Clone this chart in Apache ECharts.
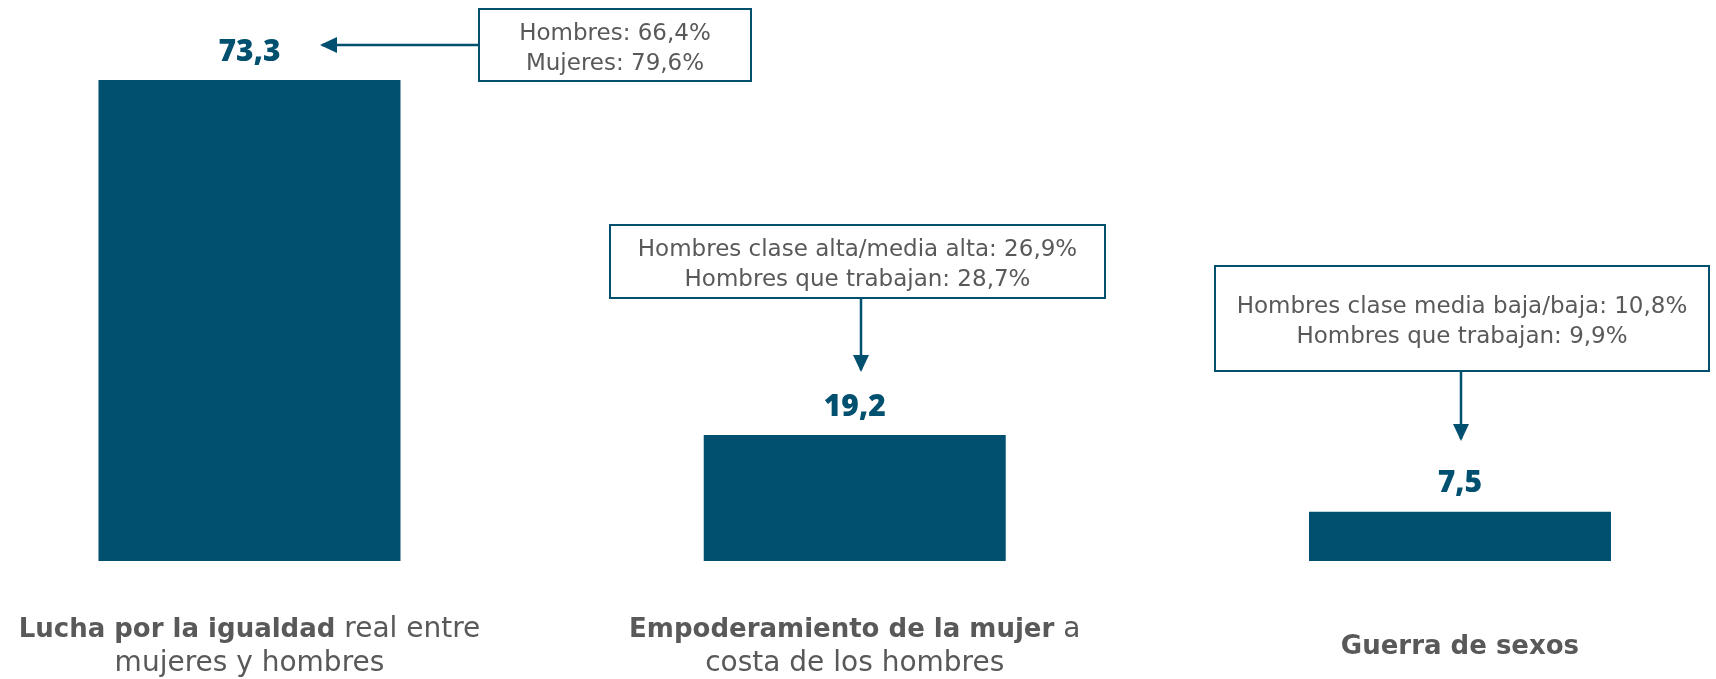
<!DOCTYPE html>
<html>
<head>
<meta charset="utf-8">
<script src="https://cdn.jsdelivr.net/npm/echarts@6/dist/echarts.min.js"></script>
<style>
  html, body { margin: 0; padding: 0; background: #fff; }
  #chart { width: 1716px; height: 679px; }
</style>
</head>
<body>
<div id="chart"></div>
<script>
// datos
const categorias = [
  ['Lucha por la igualdad', 'real entre', 'mujeres y hombres'],
  ['Empoderamiento de la mujer', 'a', 'costa de los hombres'],
  ['Guerra de sexos', '', '']
];
const valores = [73.3, 19.2, 7.5];
const notas = [
  ['Hombres: 66,4%', 'Mujeres: 79,6%'],
  ['Hombres clase alta/media alta: 26,9%', 'Hombres que trabajan: 28,7%'],
  ['Hombres clase media baja/baja: 10,8%', 'Hombres que trabajan: 9,9%']
];

const AZUL = '#02506f';
const GRIS = '#595959';
const FUENTE = 'DejaVu Sans';

const chart = echarts.init(document.getElementById('chart'));

// cajas de notas (posición en pixeles)
const cajas = [
  { x: 479, y: 9, w: 272, h: 72, arrow: [[479, 45], [322, 45]] },
  { x: 610, y: 225, w: 495, h: 73, arrow: [[861, 298], [861, 370]] },
  { x: 1215, y: 266, w: 494, h: 105, arrow: [[1461, 371], [1461, 439]] }
];

const graficos = [];
cajas.forEach((c, i) => {
  graficos.push({
    type: 'rect',
    shape: { x: c.x, y: c.y, width: c.w, height: c.h },
    style: { fill: '#fff', stroke: AZUL, lineWidth: 2 }
  });
  graficos.push({
    type: 'text',
    x: c.x + c.w / 2,
    y: c.y + c.h / 2 + 4,
    style: {
      text: notas[i].join('\n'),
      font: '400 23px ' + FUENTE,
      fill: GRIS,
      align: 'center',
      verticalAlign: 'middle',
      lineHeight: 30
    }
  });
  const [a, b] = c.arrow;
  graficos.push({
    type: 'line',
    shape: { x1: a[0], y1: a[1], x2: b[0], y2: b[1] },
    style: { stroke: AZUL, lineWidth: 2.5 }
  });
  // punta de flecha
  let pts;
  if (a[1] === b[1]) {
    pts = [[b[0] - 2, b[1]], [b[0] + 15, b[1] - 8], [b[0] + 15, b[1] + 8]];
  } else {
    pts = [[b[0], b[1] + 2], [b[0] - 8, b[1] - 15], [b[0] + 8, b[1] - 15]];
  }
  graficos.push({
    type: 'polygon',
    shape: { points: pts },
    style: { fill: AZUL }
  });
});

chart.setOption({
  animation: false,
  grid: { left: 0, right: 0, top: 36, bottom: 118 },
  xAxis: {
    type: 'value',
    min: -0.4122,
    max: 2.423,
    axisLine: { show: false },
    axisTick: { show: false },
    splitLine: { show: false },
    axisLabel: {
      customValues: [0, 1, 2],
      margin: 86,
      verticalAlign: 'middle',
      align: 'center',
      formatter: v => {
        const [b, r, s] = categorias[Math.round(v)];
        let t = '{b|' + b + '}';
        if (r) t += '{r| ' + r + '}';
        if (s) t += '\n{r|' + s + '}';
        return t;
      },
      rich: {
        b: { fontFamily: FUENTE, fontWeight: 700, fontSize: 26, color: GRIS, lineHeight: 34, align: 'center' },
        r: { fontFamily: FUENTE, fontWeight: 400, fontSize: 28, color: GRIS, lineHeight: 34, align: 'center' }
      }
    }
  },
  yAxis: {
    type: 'value',
    min: 0,
    max: 80,
    show: false,
    splitLine: { show: false }
  },
  series: [{
    type: 'bar',
    data: valores.map((v, i) => [i, v]),
    barWidth: 302,
    itemStyle: { color: AZUL },
    label: {
      show: true,
      position: 'top',
      distance: 13,
      fontFamily: 'Open Sans',
      fontWeight: 800,
      fontSize: 30,
      color: AZUL,
      formatter: p => String(p.value[1]).replace('.', ',')
    }
  }],
  graphic: graficos
});
</script>
</body>
</html>
